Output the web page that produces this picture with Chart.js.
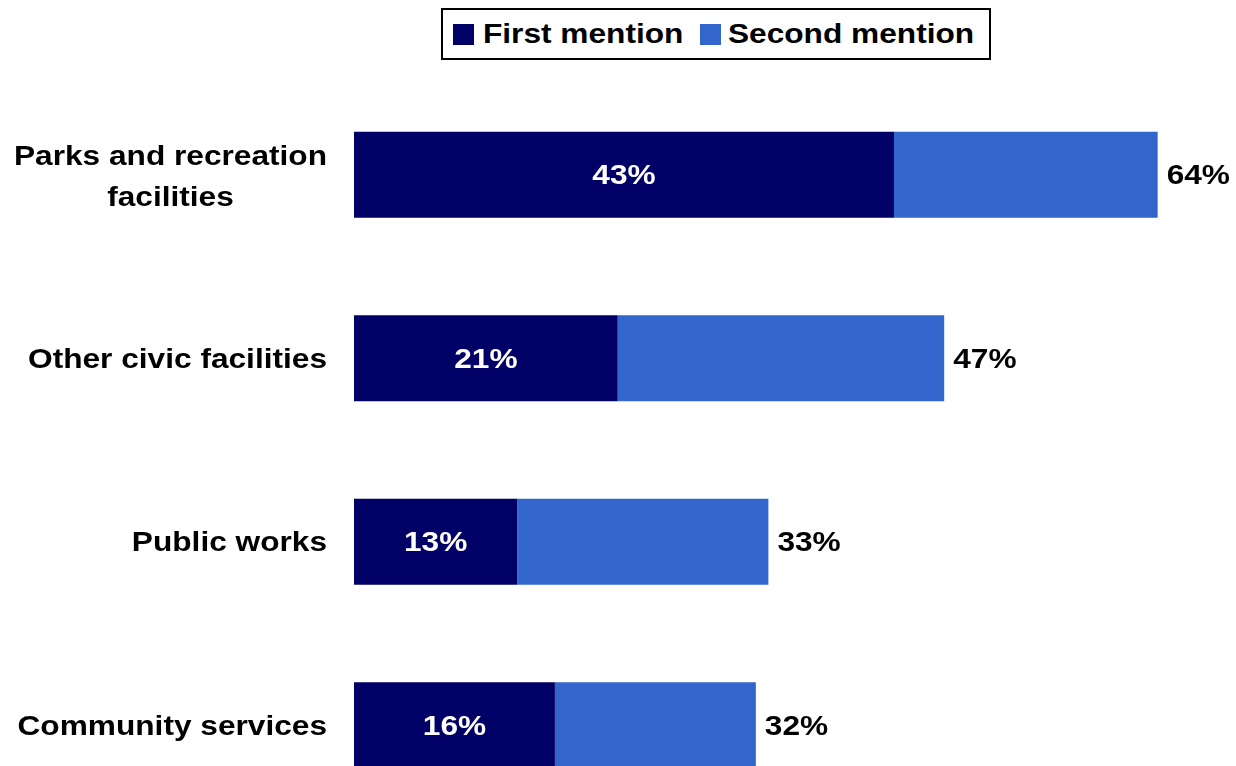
<!DOCTYPE html>
<html>
<head>
<meta charset="utf-8">
<script src="https://cdn.jsdelivr.net/npm/chart.js@4"></script>
<style>
  html, body { margin: 0; padding: 0; background: #fff; overflow: hidden; }
  #wrap { position: relative; width: 1236px; height: 818px; }
  #legend {
    position: absolute; left: 441px; top: 8px; width: 550px; height: 52px;
    box-sizing: border-box; border: 2px solid #000; background: #fff;
    display: flex; align-items: center; padding-left: 10px;
    font: bold 28px "Liberation Sans", Arial, sans-serif; color: #000;
  }
  .item { display: flex; align-items: center; white-space: nowrap; }
  .item + .item { margin-left: 17px; }
  .swatch { width: 21px; height: 21px; margin-right: 9px; flex: none; }
  .item + .item .swatch { margin-right: 7px; }
  .txt { display: inline-block; transform-origin: left center; }
</style>
</head>
<body>
<div id="wrap">
  <canvas id="mentionsChart"></canvas>
  <div id="legend"></div>
</div>
<script>
const categories = [
  ["Parks and recreation", "facilities"],
  ["Other civic facilities"],
  ["Public works"],
  ["Community services"]
];
const firstMention = [43, 21, 13, 16];
const secondMention = [21, 26, 20, 16];
const seriesNames = ["First mention", "Second mention"];
const seriesColors = ["#000066", "#3366CC"];

const FONT = 'bold 28px "Liberation Sans", Arial, sans-serif';
const SX = 1.13; // text is drawn slightly wide

function wideText(ctx, text, x, y, align) {
  ctx.save();
  ctx.scale(SX, 1);
  ctx.textAlign = align;
  ctx.fillText(text, x / SX, y);
  ctx.restore();
}

// --- Category names + value labels ---
const labelPlugin = {
  id: "barLabels",
  afterDraw(chart) {
    const ctx = chart.ctx;
    const yScale = chart.scales.y;
    ctx.save();
    ctx.font = FONT;
    ctx.textBaseline = "middle";

    // category names: block right-aligned to the axis, lines centred in the block
    ctx.fillStyle = "#000";
    categories.forEach((lines, i) => {
      const cy = yScale.getPixelForValue(i) + 2;
      const widest = Math.max(...lines.map(l => ctx.measureText(l).width)) * SX;
      const cx = chart.chartArea.left - 27 - widest / 2;
      lines.forEach((line, j) => {
        const off = lines.length > 1 ? (j - (lines.length - 1) / 2) * 41 + 1 : 0;
        wideText(ctx, line, cx, cy + off, "center");
      });
    });

    // first mention inside the dark bar
    const firstMeta = chart.getDatasetMeta(0);
    ctx.fillStyle = "#fff";
    firstMeta.data.forEach((bar, i) => {
      wideText(ctx, firstMention[i] + "%", (bar.x + bar.base) / 2, bar.y + 2, "center");
    });

    // combined total after the bar end
    const secondMeta = chart.getDatasetMeta(1);
    ctx.fillStyle = "#000";
    secondMeta.data.forEach((bar, i) => {
      wideText(ctx, (firstMention[i] + secondMention[i]) + "%", bar.x + 9, bar.y + 2, "left");
    });
    ctx.restore();
  }
};

const ctx = document.getElementById("mentionsChart").getContext("2d");
const chart = new Chart(ctx, {
  type: "bar",
  data: {
    labels: categories.map(c => c.join(" ")),
    datasets: [
      { label: seriesNames[0], data: firstMention, backgroundColor: seriesColors[0] },
      { label: seriesNames[1], data: secondMention, backgroundColor: seriesColors[1] }
    ]
  },
  options: {
    indexAxis: "y",
    responsive: true,
    maintainAspectRatio: false,
    animation: false,
    layout: { padding: { left: 354, right: 3, top: 83, bottom: 1 } },
    datasets: { bar: { barPercentage: 0.47, categoryPercentage: 1 } },
    plugins: { legend: { display: false }, tooltip: { enabled: false } },
    scales: {
      x: { stacked: true, min: 0, max: 70, display: false },
      y: { stacked: true, display: false }
    }
  },
  plugins: [labelPlugin]
});

// --- Legend built from the datasets ---
const legend = document.getElementById("legend");
chart.data.datasets.forEach(ds => {
  const item = document.createElement("div");
  item.className = "item";
  item.innerHTML = `<span class="swatch" style="background:${ds.backgroundColor}"></span><span class="txt">${ds.label}</span>`;
  legend.appendChild(item);
  const txt = item.querySelector(".txt");
  txt.style.marginRight = (txt.offsetWidth * (SX - 1)) + "px";
  txt.style.transform = `scaleX(${SX})`;
});
</script>
</body>
</html>
